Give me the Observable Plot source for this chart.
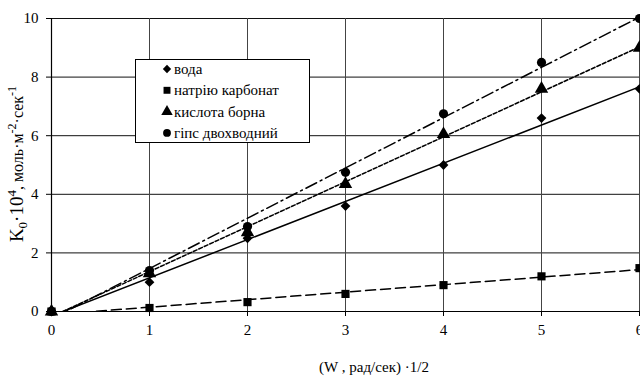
<!DOCTYPE html>
<html>
<head>
<meta charset="utf-8">
<script src="https://cdn.jsdelivr.net/npm/d3@7"></script>
<script src="https://cdn.jsdelivr.net/npm/@observablehq/plot@0.6"></script>
<style>
  html, body { margin: 0; padding: 0; background: #fff; }
  #chart svg { display: block; }
  #chart svg, #chart svg text { font-family: "Liberation Serif", "Times New Roman", serif; }
</style>
</head>
<body>
<div id="chart"></div>
<script>
const xValues = [0, 1, 2, 3, 4, 5, 6];
const seriesNames = ["вода", "натрію карбонат", "кислота борна", "гіпс двохводний"];
const vodaValues = [0, 1.0, 2.5, 3.6, 5.0, 6.6, 7.6];
const karbonatValues = [0, 0.12, 0.32, 0.6, 0.9, 1.2, 1.48];
const bornaValues = [0, 1.3, 2.7, 4.35, 6.05, 7.6, 9.0];
const gipsValues = [0, 1.4, 2.9, 4.75, 6.75, 8.5, 10.0];
const xTicks = [0, 1, 2, 3, 4, 5, 6];
const yTicks = [0, 2, 4, 6, 8, 10];
const xLabel = "(W , рад/сек) ·1/2";

const allValues = [vodaValues, karbonatValues, bornaValues, gipsValues];
const diamondSym = {
  draw(ctx, size) {
    const s = Math.sqrt(size / 2);
    ctx.moveTo(0, -s); ctx.lineTo(s, 0); ctx.lineTo(0, s); ctx.lineTo(-s, 0); ctx.closePath();
  }
};
const symbols = [diamondSym, d3.symbolSquare, d3.symbolTriangle, d3.symbolCircle];
const symbolR = [3.9, 4.6, 5, 4.6];
const dashes = [null, "10,5", "4,2", "12,4,2,4"];

const series = seriesNames.map((name, i) =>
  xValues.map((x, j) => ({x, y: allValues[i][j], series: name}))
);

const font = "Liberation Serif, Times New Roman, serif";

const marks = [
  Plot.gridY(yTicks, {stroke: "#111", strokeOpacity: 1, strokeWidth: 1}),
  Plot.gridX(xTicks, {stroke: "#444", strokeOpacity: 1, strokeWidth: 1}),
  Plot.ruleY([0], {stroke: "#000", strokeWidth: 1.2}),
  Plot.ruleX([0], {stroke: "#000", strokeWidth: 1.2}),
  Plot.axisY(yTicks, {tickSize: 5, tickPadding: 8, fontSize: 15, stroke: "#000", label: null}),
  Plot.axisX(xTicks, {tickSize: 5, tickPadding: 8, fontSize: 15, stroke: "#000", label: null}),
];
series.forEach((data, i) => {
  marks.push(Plot.linearRegressionY(data, {
    x: "x", y: "y", stroke: "#000", strokeWidth: 1.5, ci: 0, clip: true,
    strokeDasharray: dashes[i] || undefined
  }));
});
series.forEach((data, i) => {
  marks.push(Plot.dot(data, {x: "x", y: "y", symbol: symbols[i], r: symbolR[i], fill: "#000", stroke: "none"}));
});

const chart = Plot.plot({
  width: 640,
  height: 376,
  marginLeft: 51,
  marginRight: 1,
  marginTop: 18,
  marginBottom: 65,
  style: {fontFamily: font, fontSize: "15px", color: "#000", background: "#fff"},
  x: {domain: [0, 6]},
  y: {domain: [0, 10]},
  marks
});

const svg = d3.select(chart);

// y-axis label with sub/superscripts
const yl = svg.append("text")
  .attr("transform", "translate(23,164) rotate(-90)")
  .attr("text-anchor", "middle")
  .style("font-family", font)
  .attr("fill", "#000");
yl.append("tspan").attr("font-size", 19).text("K");
yl.append("tspan").attr("font-size", 13).attr("dy", 4).text("0");
yl.append("tspan").attr("font-size", 19).attr("dy", -4).text("·10");
yl.append("tspan").attr("font-size", 13).attr("dy", -7).text("4");
yl.append("tspan").attr("font-size", 16).attr("dy", 7).text(", моль·м");
yl.append("tspan").attr("font-size", 12).attr("dy", -7).text("-2");
yl.append("tspan").attr("font-size", 16).attr("dy", 7).text("·сек");
yl.append("tspan").attr("font-size", 12).attr("dy", -7).text("-1");

// x-axis label
svg.append("text")
  .attr("x", 374).attr("y", 372)
  .attr("text-anchor", "middle")
  .style("font-family", font).attr("font-size", 15)
  .attr("fill", "#000")
  .text(xLabel);

// legend
const lg = svg.append("g").attr("transform", "translate(135,59)");
lg.append("rect").attr("x", 0.5).attr("y", 0.5).attr("width", 174).attr("height", 83)
  .attr("fill", "#fff").attr("stroke", "#000").attr("stroke-width", 1);
seriesNames.forEach((name, i) => {
  const cy = 10 + i * 21.3;
  const r = symbolR[i] * 0.85;
  lg.append("path")
    .attr("transform", `translate(32,${cy})`)
    .attr("d", d3.symbol(symbols[i], Math.PI * r * r)())
    .attr("fill", "#000");
  lg.append("text").attr("x", 39).attr("y", cy + 5)
    .attr("text-anchor", "start")
    .style("font-family", font).attr("font-size", 15).attr("fill", "#000")
    .text(name);
});

document.getElementById("chart").appendChild(chart);
</script>
</body>
</html>
